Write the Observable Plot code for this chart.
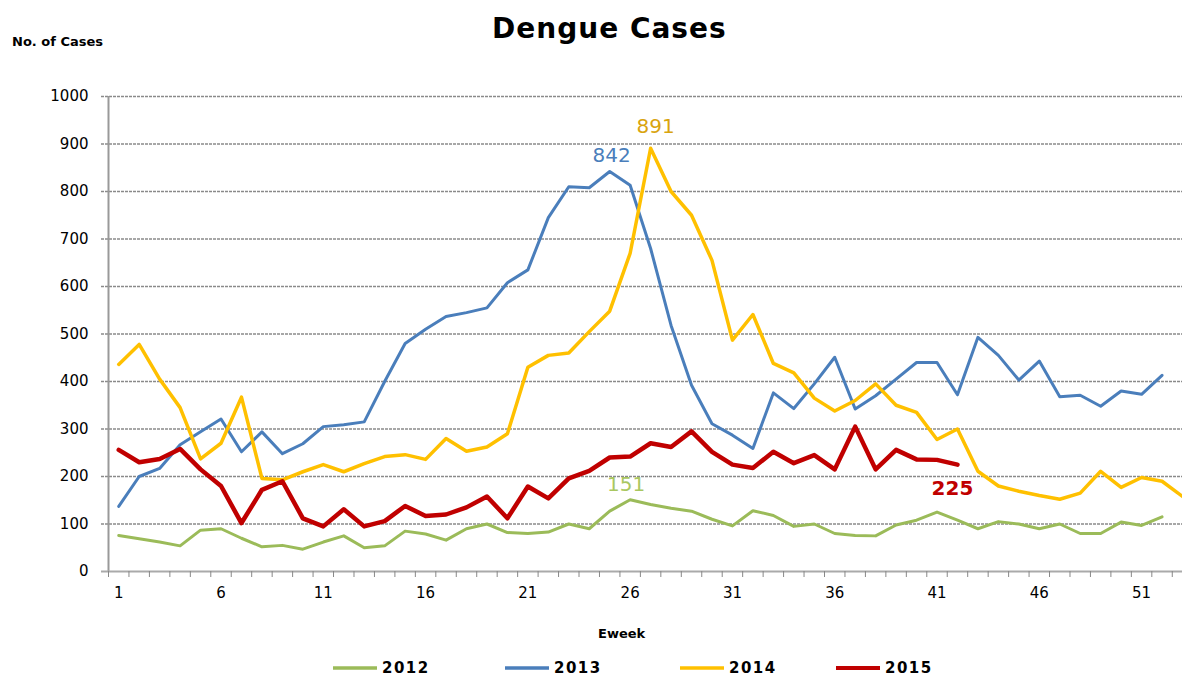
<!DOCTYPE html>
<html>
<head>
<meta charset="utf-8">
<script src="https://cdn.jsdelivr.net/npm/d3@7"></script>
<script src="https://cdn.jsdelivr.net/npm/@observablehq/plot@0.6"></script>
<style>
  html, body { margin: 0; padding: 0; background: #fff; }
  #wrap { position: relative; width: 1182px; height: 679px; overflow: hidden; font-family: "DejaVu Sans", sans-serif; }
  #title { position: absolute; left: 492px; top: 15px; font-size: 28px; font-weight: bold; line-height: 1; color: #000; white-space: nowrap; letter-spacing: 1px; }
  #ylab { position: absolute; left: 12px; top: 35px; font-size: 13px; font-weight: bold; line-height: 1; white-space: nowrap; }
  #xlab { position: absolute; left: 598px; top: 627px; font-size: 13px; font-weight: bold; line-height: 1; white-space: nowrap; }
  #chart { position: absolute; left: 0; top: 0; }
  #legend { position: absolute; left: 0; top: 659px; width: 1182px; height: 20px; }
  .item { position: absolute; top: 0; display: flex; align-items: center; height: 18px; }
  .item span { font-size: 15px; font-weight: bold; margin-left: 5px; letter-spacing: 1.5px; }
</style>
</head>
<body>
<div id="wrap">
  <div id="chart"></div>
  <div id="title">Dengue Cases</div>
  <div id="ylab">No. of Cases</div>
  <div id="xlab">Eweek</div>
  <div id="legend"></div>
</div>
<script>
// ---- data ----
const years = ["2012", "2013", "2014", "2015"];
const colors = ["#9BBB59", "#4A7EBB", "#FFC000", "#C00000"];
const weeks = d3.range(1, 54);
const xTickLabels = [1, 6, 11, 16, 21, 26, 31, 36, 41, 46, 51];
const yTicks = [0, 100, 200, 300, 400, 500, 600, 700, 800, 900, 1000];

const cases2012 = [76, 69, 62, 54, 87, 90, 70, 52, 55, 47, 62, 75, 50, 54, 85, 79, 66, 90, 100, 82,
  80, 83, 100, 90, 127, 151, 141, 133, 127, 110, 96, 128, 118, 95, 100, 80, 76, 75, 98, 108,
  125, 108, 90, 105, 100, 90, 100, 80, 80, 104, 97, 115];
const cases2013 = [137, 200, 217, 267, 294, 321, 252, 294, 248, 269, 305, 309, 315, 400, 480, 510, 537, 545, 555, 608,
  635, 745, 810, 808, 842, 813, 680, 518, 392, 311, 287, 259, 376, 343, 395, 451, 342, 370, 405, 440,
  440, 372, 493, 455, 403, 443, 368, 371, 348, 380, 373, 413];
const cases2014 = [436, 478, 405, 345, 237, 270, 367, 196, 193, 210, 225, 210, 227, 242, 246, 236, 280, 253, 262, 290,
  430, 455, 460, 505, 548, 670, 891, 800, 750, 655, 487, 541, 438, 418, 365, 338, 360, 395, 350, 335,
  278, 300, 211, 180, 169, 160, 152, 165, 211, 177, 198, 190, 158];
const cases2015 = [256, 230, 237, 258, 215, 180, 102, 172, 190, 112, 95, 131, 95, 106, 138, 117, 120, 135, 158, 112,
  179, 154, 196, 212, 240, 242, 270, 262, 295, 252, 225, 218, 252, 228, 245, 215, 305, 215, 256, 236,
  235, 225];

const seriesValues = [cases2012, cases2013, cases2014, cases2015];
const strokeWidths = [3, 3, 3.5, 4.5];

const tables = seriesValues.map((vals, i) => vals.map((v, j) => ({ week: weeks[j], cases: v, year: years[i] })));

// highlighted labels: peaks of 2012-2014, last value of 2015
const labelPts = [
  { ...tables[0][d3.maxIndex(cases2012)], color: "#A9C760", dx: -4, dy: -15, weight: "normal" },
  { ...tables[1][d3.maxIndex(cases2013)], color: "#4A7EBB", dx: 2, dy: -16, weight: "normal" },
  { ...tables[2][d3.maxIndex(cases2014)], color: "#D9A40F", dx: 5, dy: -22, weight: "normal" },
  { ...tables[3][cases2015.length - 1], color: "#C00000", dx: -5, dy: 24, weight: "bold" }
];

const boundaries = d3.range(0, 54).map(w => w + 0.5);

const marks = [
  Plot.ruleY(yTicks.slice(1), { stroke: "#8a8a8a", strokeWidth: 1.6, strokeDasharray: "3,1", insetLeft: -7 }),
  Plot.ruleX([0.5], { y1: 0, y2: 1000, stroke: "#999", strokeWidth: 2 }),
  Plot.ruleY([0], { stroke: "#aaa", strokeWidth: 2, insetLeft: -7 }),
  Plot.axisY({ ticks: yTicks, tickSize: 0, tickPadding: 20, fontSize: 15, fill: "#000", label: null, tickFormat: d => String(d) }),
  Plot.axisX({ ticks: boundaries, tickSize: 6, label: null, tickFormat: () => "", stroke: "#888" }),
  Plot.axisX({ ticks: xTickLabels, tickSize: 0, tickPadding: 16, fontSize: 15, fill: "#000", label: null, tickFormat: d => String(d) })
];
tables.forEach((t, i) => {
  marks.push(Plot.line(t, { x: "week", y: "cases", stroke: colors[i], strokeWidth: strokeWidths[i], strokeLinejoin: "round" }));
});
labelPts.forEach(p => {
  marks.push(Plot.text([p], { x: "week", y: "cases", text: d => String(d.cases), fill: p.color, dx: p.dx, dy: p.dy,
    fontSize: 20, fontWeight: p.weight, letterSpacing: "3px" }));
});

const chart = Plot.plot({
  width: 1182,
  height: 620,
  marginTop: 96,
  marginBottom: 49,
  marginLeft: 108,
  marginRight: 0,
  x: { domain: [0.5, 53.0], axis: null },
  y: { domain: [0, 1000], axis: null },
  style: { fontFamily: "DejaVu Sans, sans-serif", background: "transparent", overflow: "visible" },
  marks
});
document.getElementById("chart").appendChild(chart);

// legend
const legendX = [333, 505, 680, 836];
const lg = document.getElementById("legend");
years.forEach((y, i) => {
  const it = document.createElement("div");
  it.className = "item";
  it.style.left = legendX[i] + "px";
  it.innerHTML = `<svg width="44" height="8"><line x1="0" x2="44" y1="4" y2="4" stroke="${colors[i]}" stroke-width="${strokeWidths[i] > 4 ? 4 : 3.5}"/></svg><span>${y}</span>`;
  lg.appendChild(it);
});
</script>
</body>
</html>
